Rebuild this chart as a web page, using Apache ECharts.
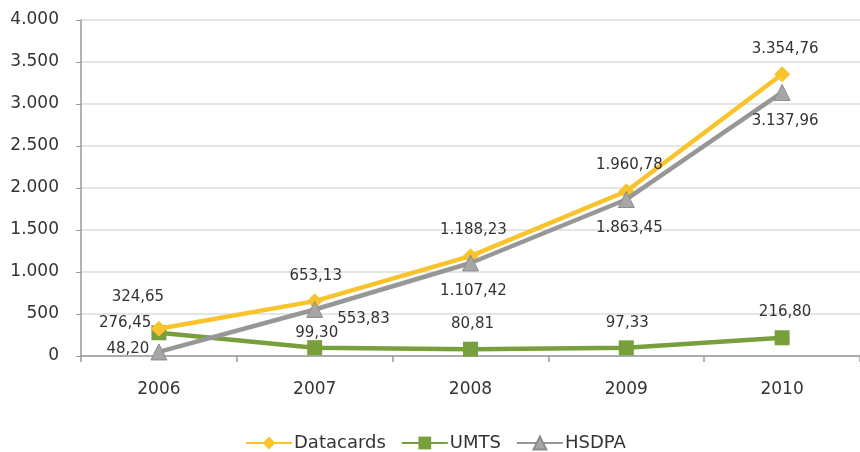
<!DOCTYPE html>
<html><head><meta charset="utf-8">
<script src="https://cdn.jsdelivr.net/npm/echarts@6/dist/echarts.min.js"></script>
<style>html,body{margin:0;padding:0;background:#fff}#c{width:860px;height:452px}</style>
</head><body><div id="c"></div>
<script>
var categories = ['2006','2007','2008','2009','2010'];
var datacards = [324.65, 653.13, 1188.23, 1960.78, 3354.76];
var umts = [276.45, 99.30, 80.81, 97.33, 216.80];
var hsdpa = [48.20, 553.83, 1107.42, 1863.45, 3137.96];
var yTicks = [0, 500, 1000, 1500, 2000, 2500, 3000, 3500, 4000];

// label placement (style only)
var dcPos = [['top',[-21,-11]],['top',[1,-5]],['top',[3,-6]],['top',[3,-6]],['top',[3,-5]]];
var umPos = [['left',[5,-10]],['top',[2,5]],['top',[2,-5]],['top',[1,-5]],['top',[3,-6]]];
var hsPos = [['left',[4,-3]],['right',[9,10]],['bottom',[3,7]],['bottom',[3,8]],['bottom',[3,8]]];

function fmt(v, dec){
  var s = v.toFixed(dec);
  var parts = s.split('.');
  var ip = parts[0].replace(/\B(?=(\d{3})+(?!\d))/g, '.');
  return dec ? ip + ',' + parts[1] : ip;
}
function mk(vals, pos){
  return vals.map(function(v,i){
    return {value:v, label:{position:pos[i][0], offset:pos[i][1]}};
  });
}
var labelStyle = {show:true, color:'#333', fontFamily:'DejaVu Sans', fontSize:15,
  formatter:function(p){return fmt(p.value,2);}};

var chart = echarts.init(document.getElementById('c'));
chart.setOption({
  animation:false,
  textStyle:{fontFamily:'DejaVu Sans'},
  grid:{left:81, right:0, top:20, bottom:96, containLabel:false},
  legend:{top:429, left:240, itemWidth:46, itemHeight:16, itemGap:15,
    textStyle:{fontSize:18, color:'#333', fontFamily:'DejaVu Sans', padding:[0,0,0,-3]},
    data:['Datacards','UMTS','HSDPA']},
  xAxis:{type:'category', data:categories, boundaryGap:true,
    axisLine:{lineStyle:{color:'#999', width:1.5}},
    axisTick:{show:true, length:6, lineStyle:{color:'#999', width:1.5}},
    axisLabel:{fontSize:17, color:'#333', margin:25}},
  yAxis:{type:'value', min:yTicks[0], max:yTicks[yTicks.length-1], interval:500,
    axisLine:{show:true, lineStyle:{color:'#999', width:1.5}},
    axisTick:{show:true, length:5, lineStyle:{color:'#999'}},
    splitLine:{lineStyle:{color:'#DCDCDC', width:1.5}},
    axisLabel:{fontSize:17, color:'#333', margin:22, formatter:function(v){return fmt(v,0);}}},
  series:[
    {name:'Datacards', type:'line', data:mk(datacards,dcPos), symbol:'diamond', symbolSize:16,
      lineStyle:{color:'#F8C32B', width:4.5}, itemStyle:{color:'#F8C32B'}, label:labelStyle, z:3},
    {name:'UMTS', type:'line', data:mk(umts,umPos), symbol:'rect', symbolSize:15,
      lineStyle:{color:'#77A03C', width:4.5}, itemStyle:{color:'#77A03C'}, label:labelStyle, z:2},
    {name:'HSDPA', type:'line', data:mk(hsdpa,hsPos), symbol:'triangle', symbolSize:16,
      lineStyle:{color:'#979797', width:4.5}, itemStyle:{color:'#A6A6A6', borderColor:'#8C8C8C', borderWidth:1}, label:labelStyle, z:4}
  ]
});
</script></body></html>
